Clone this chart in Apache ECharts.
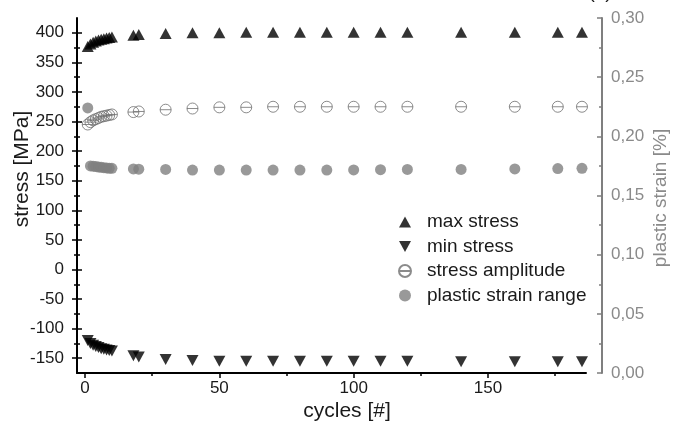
<!DOCTYPE html>
<html>
<head>
<meta charset="utf-8">
<script src="https://cdn.jsdelivr.net/npm/echarts@6/dist/echarts.min.js"></script>
<style>
  html, body { margin: 0; padding: 0; background: #fff; }
  #chart { width: 674px; height: 439px; }
</style>
</head>
<body>
<div id="chart"></div>
<script>
// Low-cycle fatigue test: stress response and plastic strain range per cycle
const cycles = [1, 2, 3, 4, 5, 6, 7, 8, 9, 10, 18, 20, 30, 40, 50, 60, 70, 80, 90, 100, 110, 120, 140, 160, 176, 185];
const maxStress = [377, 381, 384, 386, 388, 389, 390, 391, 392, 393, 396, 397, 399, 400, 400, 401, 401, 401, 401, 401, 401, 401, 401, 401, 401, 401];
const minStress = [-120, -125, -128, -130, -132, -134, -135, -136, -137, -138, -146, -148, -152, -154, -155, -155, -155, -155, -155, -155, -155, -155, -156, -156, -156, -156];
const stressAmplitude = [245, 249, 252, 254, 256, 258, 259, 260, 261, 262, 266, 267, 270, 272, 274, 274, 275, 275, 275, 275, 275, 275, 275, 275, 275, 275];
const plasticStrainRange = [0.224, 0.175, 0.1748, 0.1745, 0.174, 0.1738, 0.1735, 0.1733, 0.173, 0.173, 0.1725, 0.1722, 0.172, 0.1715, 0.1715, 0.1715, 0.1715, 0.1715, 0.1715, 0.1716, 0.1718, 0.172, 0.172, 0.1725, 0.1728, 0.173];

const stressMajor = [-150, -100, -50, 0, 50, 100, 150, 200, 250, 300, 350, 400];
const stressMinor = [-125, -75, -25, 25, 75, 125, 175, 225, 275, 325, 375];
const cycleMajor = [0, 50, 100, 150];
const cycleMinor = [25, 75, 125, 175];

const FONT = 'Liberation Sans, Arial, sans-serif';
const pairs = (ys) => cycles.map((c, i) => [c, ys[i]]);

const stressRange = { min: -175, max: 425 };
const cycleRange = { min: -3, max: 186.5 };

const TRI_UP = 'path://M10,0L20,18L0,18Z';
const TRI_DOWN = 'path://M0,0L20,0L10,18Z';
const CIRCLE_BAR = 'path://M0,10A10,10,0,1,1,20,10A10,10,0,1,1,0,10ZM0,10L20,10';

// overlaid copies of the stress axis: ticks crossing the axis line
function stressTickAxis(values, inside, len, withLine, withLabels) {
  return {
    type: 'value', position: 'left', ...stressRange,
    axisLine: { show: withLine, onZero: false, lineStyle: { color: '#000', width: 2 } },
    axisTick: { show: true, inside: inside, length: len, customValues: values, lineStyle: { color: '#000', width: 1.5 } },
    axisLabel: withLabels
      ? { show: true, customValues: stressMajor, margin: 13, color: '#1a1a1a', fontSize: 17, fontFamily: FONT }
      : { show: false },
    splitLine: { show: false }
  };
}

const option = {
  animation: false,
  backgroundColor: '#fff',
  textStyle: { fontFamily: FONT },
  grid: { left: 77, right: 88, top: 18, bottom: 66 },
  xAxis: [
    {
      type: 'value', position: 'bottom', ...cycleRange,
      axisLine: { show: true, onZero: false, lineStyle: { color: '#000', width: 2 } },
      axisTick: { show: true, inside: false, length: 5, customValues: cycleMajor, lineStyle: { color: '#000', width: 1.5 } },
      axisLabel: { show: true, customValues: cycleMajor, margin: 7, color: '#1a1a1a', fontSize: 17, fontFamily: FONT },
      splitLine: { show: false }
    },
    {
      type: 'value', position: 'bottom', ...cycleRange,
      axisLine: { show: false, onZero: false },
      axisTick: { show: true, inside: false, length: 3, customValues: cycleMinor, lineStyle: { color: '#000', width: 1.5 } },
      axisLabel: { show: false },
      splitLine: { show: false }
    }
  ],
  yAxis: [
    stressTickAxis(stressMajor, false, 5, true, true),
    stressTickAxis(stressMajor, true, 5, false, false),
    stressTickAxis(stressMinor, false, 3, false, false),
    stressTickAxis(stressMinor, true, 3, false, false),
    {
      type: 'value', position: 'right', offset: 16, min: 0, max: 0.3, interval: 0.05,
      axisLine: { show: true, onZero: false, lineStyle: { color: '#7f7f7f', width: 2 } },
      axisTick: { show: true, inside: true, length: 5, lineStyle: { color: '#7f7f7f', width: 1.5 } },
      minorTick: { show: true, splitNumber: 2, length: 3, lineStyle: { color: '#7f7f7f', width: 1.5 } },
      axisLabel: {
        show: true, margin: 9, color: '#8a8a8a', fontSize: 17, fontFamily: FONT,
        formatter: (v) => v.toFixed(2).replace('.', ',')
      },
      splitLine: { show: false }
    }
  ],
  legend: {
    orient: 'vertical', left: 393, top: 207,
    itemWidth: 12, itemHeight: 12, itemGap: 4.5,
    textStyle: { color: '#1a1a1a', fontSize: 19, fontFamily: FONT, lineHeight: 20, padding: [0, 0, 0, 11] },
    data: [
      { name: 'max stress', icon: TRI_UP },
      { name: 'min stress', icon: TRI_DOWN },
      { name: 'stress amplitude', icon: CIRCLE_BAR },
      { name: 'plastic strain range', icon: 'circle' }
    ]
  },
  graphic: [
    {
      type: 'text', x: 22, y: 169, rotation: Math.PI / 2,
      style: { text: 'stress [MPa]', fill: '#1a1a1a', fontSize: 21, fontFamily: FONT, align: 'center', verticalAlign: 'middle' }
    },
    {
      type: 'text', x: 661, y: 198, rotation: Math.PI / 2,
      style: { text: 'plastic strain [%]', fill: '#8a8a8a', fontSize: 19, fontFamily: FONT, align: 'center', verticalAlign: 'middle' }
    },
    {
      type: 'text', x: 347, y: 411,
      style: { text: 'cycles [#]', fill: '#1a1a1a', fontSize: 21, fontFamily: FONT, align: 'center', verticalAlign: 'middle' }
    },
    {
      type: 'text', x: 600, y: -17,
      style: { text: '(a)', fill: '#1a1a1a', fontSize: 19, fontFamily: FONT, align: 'center', verticalAlign: 'top' }
    }
  ],
  series: [
    {
      name: 'max stress', type: 'scatter', yAxisIndex: 0,
      symbol: 'triangle', symbolSize: [12, 11],
      itemStyle: { color: '#000' },
      data: pairs(maxStress)
    },
    {
      name: 'min stress', type: 'scatter', yAxisIndex: 0,
      symbol: 'triangle', symbolRotate: 180, symbolSize: [12, 11],
      itemStyle: { color: '#000' },
      data: pairs(minStress)
    },
    {
      name: 'stress amplitude', type: 'scatter', yAxisIndex: 0,
      symbol: CIRCLE_BAR, symbolSize: 11,
      itemStyle: { color: 'rgba(255,255,255,0)', borderColor: '#6e6e6e', borderWidth: 1 },
      data: pairs(stressAmplitude)
    },
    {
      name: 'plastic strain range', type: 'scatter', yAxisIndex: 4,
      symbol: 'circle', symbolSize: 11,
      itemStyle: { color: '#808080' },
      data: pairs(plasticStrainRange)
    }
  ]
};

const chart = echarts.init(document.getElementById('chart'), null, { renderer: 'canvas' });
chart.setOption(option);
</script>
</body>
</html>
